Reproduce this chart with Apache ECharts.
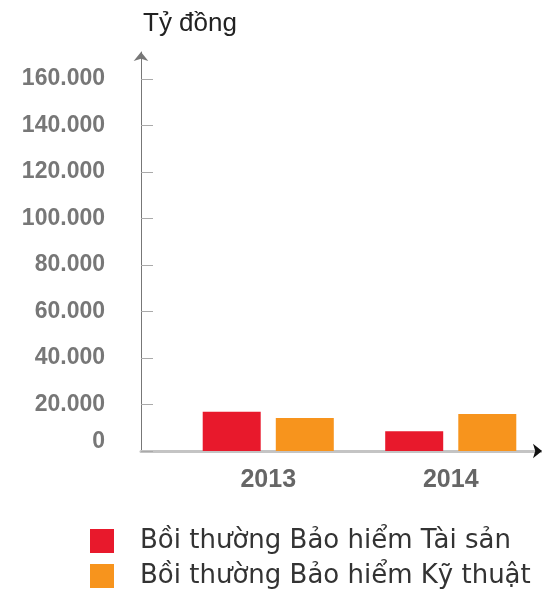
<!DOCTYPE html>
<html>
<head>
<meta charset="utf-8">
<script src="https://cdn.jsdelivr.net/npm/echarts@6/dist/echarts.min.js"></script>
<style>
  html, body { margin: 0; padding: 0; background: #fff; }
  #chart { width: 542px; height: 595px; }
</style>
</head>
<body>
<div id="chart"></div>
<script>
// dữ liệu (tỷ đồng)
const years = ['2013', '2014']
const taiSan = [16900, 8500]
const kyThuat = [14200, 15900]
const seriesNames = ['Bồi thường Bảo hiểm Tài sản', 'Bồi thường Bảo hiểm Kỹ thuật']
const colors = ['#e8192c', '#f7941d']

const font = '"Liberation Sans", Arial, sans-serif'
const legendFont = '"DejaVu Sans", sans-serif'

function fmt(v) {
  if (v === 0) return '{z|0}'
  return String(v).replace(/\B(?=(\d{3})+(?!\d))/g, '.')
}

// mỗi mục chú thích một dòng
function legendRow(name, top) {
  return {
    left: 90,
    top: top,
    padding: 0,
    itemWidth: 24,
    itemHeight: 24,
    icon: 'rect',
    textStyle: { fontFamily: legendFont, fontSize: 26, color: '#333', padding: [0, 0, 0, 21] },
    data: [name]
  }
}

// trục phụ chỉ để vẽ đường trục và mũi tên
function plainAxis(extra) {
  return Object.assign({
    type: 'value',
    gridIndex: 1,
    min: 0,
    max: 1,
    axisTick: { show: false },
    axisLabel: { show: false },
    splitLine: { show: false }
  }, extra)
}

const chart = echarts.init(document.getElementById('chart'))
chart.setOption({
  animation: false,
  title: {
    text: 'Tỷ đồng',
    left: 138,
    top: 6,
    textStyle: { fontFamily: font, fontSize: 26, fontWeight: 'normal', color: '#222' }
  },
  legend: [legendRow(seriesNames[0], 528), legendRow(seriesNames[1], 563)],
  grid: [
    // cột
    { left: 177, right: 0, top: 79, bottom: 144 },
    // đường trục có mũi tên
    { left: 141, right: 0, top: 52, bottom: 144 }
  ],
  xAxis: [
    {
      type: 'category',
      gridIndex: 0,
      data: years,
      axisLine: { show: false },
      axisTick: { show: false },
      axisLabel: { margin: 17, fontFamily: font, fontSize: 25, fontWeight: 'bold', color: '#666' }
    },
    plainAxis({
      position: 'bottom',
      axisLine: { show: true, symbol: ['none', 'arrow'], symbolSize: [11, 9], lineStyle: { color: '#111', width: 1 } }
    }),
    plainAxis({
      position: 'bottom',
      axisLine: { show: true, lineStyle: { color: '#c4c4c4', width: 3 } }
    })
  ],
  yAxis: [
    {
      type: 'value',
      gridIndex: 0,
      min: 0,
      max: 160000,
      interval: 20000,
      offset: 36,
      axisLine: { show: false },
      axisTick: { show: true, inside: true, length: 12, lineStyle: { color: '#aaa' } },
      splitLine: { show: false },
      axisLabel: {
        margin: 36,
        fontFamily: font,
        fontSize: 23,
        fontWeight: 'bold',
        color: '#777',
        formatter: fmt,
        rich: { z: { fontFamily: font, fontSize: 23, fontWeight: 'bold', color: '#777', padding: [0, 0, 18, 0] } }
      }
    },
    plainAxis({
      position: 'left',
      axisLine: { show: true, symbol: ['none', 'arrow'], symbolSize: [11, 9], lineStyle: { color: '#777', width: 1 } }
    })
  ],
  series: [
    {
      name: seriesNames[0],
      type: 'bar',
      xAxisIndex: 0,
      yAxisIndex: 0,
      barWidth: 58,
      barGap: '26%',
      itemStyle: { color: colors[0] },
      data: taiSan
    },
    {
      name: seriesNames[1],
      type: 'bar',
      xAxisIndex: 0,
      yAxisIndex: 0,
      barWidth: 58,
      barGap: '26%',
      itemStyle: { color: colors[1] },
      data: kyThuat
    }
  ]
})
</script>
</body>
</html>
